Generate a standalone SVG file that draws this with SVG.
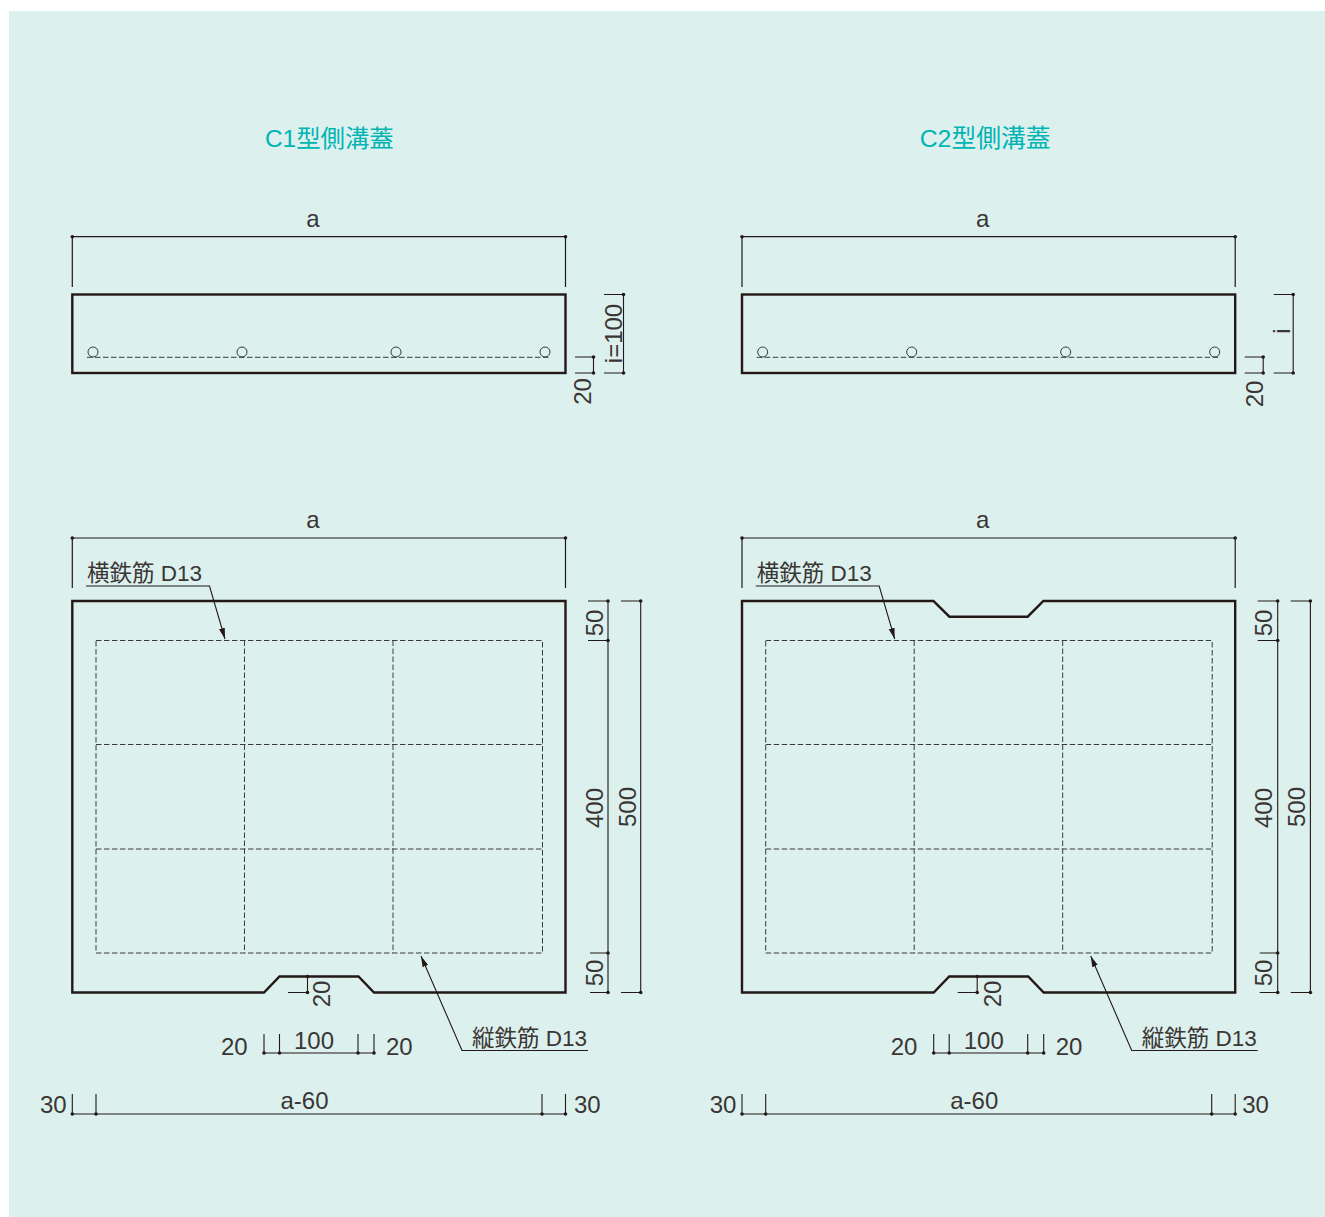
<svg xmlns="http://www.w3.org/2000/svg" width="1325" height="1217" viewBox="0 0 1325 1217">
<style>
text{font-family:"Liberation Sans","Noto Sans CJK JP",sans-serif;fill:#3a3634;font-size:24px}
.t{fill:#00b4b4;font-size:24.4px}
.l{font-size:22.5px}
.m{text-anchor:middle}
.o{fill:none;stroke:#231815;stroke-width:2.4}
.d{fill:none;stroke:#3a3a38;stroke-width:1;stroke-dasharray:5.500 2.500}
.c{fill:none;stroke:#3a3a38;stroke-width:1}
.s{fill:none;stroke:#231815;stroke-width:1.2}
.g{fill:none;stroke:#231815;stroke-width:1.1}
.p{fill:#231815;stroke:none}
</style>
<defs>
<marker id="arr" markerWidth="12" markerHeight="8" refX="11" refY="3" orient="auto" markerUnits="userSpaceOnUse"><path d="M0 0L11 3L0 6Z" class="p"/></marker>
</defs>
<rect x="9" y="11" width="1316" height="1206" fill="#dcf0ee"/>

<g id="c1">
<text id="c1-title" class="t" x="265" y="147">C1型側溝蓋</text>
<g id="c1-section">
<rect class="o" x="72.300" y="294.500" width="493.200" height="78.500"/>
<path class="d" d="M87 357.300H551"/>
<circle class="c" cx="93" cy="352" r="5"/><circle class="c" cx="242" cy="352" r="5"/><circle class="c" cx="396" cy="352" r="5"/><circle class="c" cx="545" cy="352" r="5"/>
</g>
<g id="c1-plan">
<path class="o" d="M72.300 601H565.500V992.500H374L358.500 976.500H279.500L264 992.500H72.300Z"/>
<path class="d" d="M96 640.500H542.500V953H96ZM244.500 640.500V953M393 640.500V953M96 744.500H542.500M96 849H542.500"/>
</g>
<g id="c1-labels">
<text class="m" x="313" y="227">a</text>
<text class="m" x="313" y="528">a</text>
<text class="l" x="87" y="580.500">横鉄筋 D13</text>
<text class="l" x="472" y="1046">縦鉄筋 D13</text>
<text class="m" transform="translate(591 391.500) rotate(-90)">20</text>
<text class="m" transform="translate(622 333.500) rotate(-90)">i=100</text>
<text class="m" transform="translate(603 623) rotate(-90)">50</text>
<text class="m" transform="translate(603 808) rotate(-90)">400</text>
<text class="m" transform="translate(603 973) rotate(-90)">50</text>
<text class="m" transform="translate(635.500 807) rotate(-90)">500</text>
<text class="m" transform="translate(330 994) rotate(-90)">20</text>
<text x="221" y="1054.500">20</text><text x="294" y="1049">100</text><text x="386" y="1054.500">20</text>
<text x="40" y="1112.500">30</text><text x="280.500" y="1109">a-60</text><text x="574" y="1112.500">30</text>
</g>
</g>

<g id="c2" transform="translate(669.700 0)">
<text id="c2-title" class="t" x="250" y="147" style="font-size:24.800px">C2型側溝蓋</text>
<g id="c2-section">
<rect class="o" x="72.300" y="294.500" width="493.200" height="78.500"/>
<path class="d" d="M87 357.300H551"/>
<circle class="c" cx="93" cy="352" r="5"/><circle class="c" cx="242" cy="352" r="5"/><circle class="c" cx="396" cy="352" r="5"/><circle class="c" cx="545" cy="352" r="5"/>
</g>
<g id="c2-plan">
<path class="o" d="M72.300 601H263.700L279.700 616.700H358L373.700 601H565.500V992.500H374L358.500 976.500H279.500L264 992.500H72.300Z"/>
<path class="d" d="M96 640.500H542.500V953H96ZM244.500 640.500V953M393 640.500V953M96 744.500H542.500M96 849H542.500"/>
</g>
<g id="c2-labels">
<text class="m" x="313" y="227">a</text>
<text class="m" x="313" y="528">a</text>
<text class="l" x="87" y="580.500">横鉄筋 D13</text>
<text class="l" x="472" y="1046">縦鉄筋 D13</text>
<text class="m" transform="translate(593 394) rotate(-90)">20</text>
<text class="m" transform="translate(620 331) rotate(-90)">i</text>
<text class="m" transform="translate(602.500 623) rotate(-90)">50</text>
<text class="m" transform="translate(602.500 808) rotate(-90)">400</text>
<text class="m" transform="translate(602.500 973) rotate(-90)">50</text>
<text class="m" transform="translate(635 807) rotate(-90)">500</text>
<text class="m" transform="translate(331 994) rotate(-90)">20</text>
<text x="221" y="1054.500">20</text><text x="294" y="1049">100</text><text x="386" y="1054.500">20</text>
<text x="40" y="1112.500">30</text><text x="280.500" y="1109">a-60</text><text x="572.500" y="1112.500">30</text>
</g>
</g>

<g id="connectors">
<g id="c1-dims">
<path class="s" d="M72.300 236.700H565.500M72.300 236.700V287M565.500 236.700V287"/>
<path class="s" d="M72.300 538H565.500M72.300 538V588M565.500 538V588"/>
<path class="g" d="M575 357H593.500V373H575M604 294.500H623.500V373H604"/>
<path class="g" d="M588 601H608V992.500H590M588 640.500H608M590 953H608M621 601H640.700V992.500H621"/>
<path class="g" d="M288 992.500H307.500V976.500"/>
<path class="g" d="M264 1034V1053H374V1034M279.500 1034V1053M358 1034V1053"/>
<path class="g" d="M72.300 1094V1114H565.500V1094M96 1094V1114M542 1094V1114"/>
<path class="g" d="M86 586H209.500L225 639" marker-end="url(#arr)"/>
<path class="g" d="M588 1050.500H462L421 956" marker-end="url(#arr)"/>
<g class="p"><circle cx="72.300" cy="236.700" r="1.800"/><circle cx="565.500" cy="236.700" r="1.800"/><circle cx="72.300" cy="538" r="1.800"/><circle cx="565.500" cy="538" r="1.800"/><circle cx="593.500" cy="357" r="1.800"/><circle cx="593.500" cy="373" r="1.800"/><circle cx="623.500" cy="294.500" r="1.800"/><circle cx="623.500" cy="373" r="1.800"/><circle cx="608" cy="601" r="1.800"/><circle cx="608" cy="640.500" r="1.800"/><circle cx="608" cy="953" r="1.800"/><circle cx="608" cy="992.500" r="1.800"/><circle cx="640.700" cy="601" r="1.800"/><circle cx="640.700" cy="992.500" r="1.800"/><circle cx="307.500" cy="976.500" r="1.800"/><circle cx="307.500" cy="992.500" r="1.800"/><circle cx="264" cy="1053" r="1.800"/><circle cx="279.500" cy="1053" r="1.800"/><circle cx="358" cy="1053" r="1.800"/><circle cx="374" cy="1053" r="1.800"/><circle cx="72.300" cy="1114" r="1.800"/><circle cx="96" cy="1114" r="1.800"/><circle cx="542" cy="1114" r="1.800"/><circle cx="565.500" cy="1114" r="1.800"/></g>
</g>
<g id="c2-dims" transform="translate(669.700 0)">
<path class="s" d="M72.300 236.700H565.500M72.300 236.700V287M565.500 236.700V287"/>
<path class="s" d="M72.300 538H565.500M72.300 538V588M565.500 538V588"/>
<path class="g" d="M575 357H593.500V373H575M604 294.500H623.500V373H604"/>
<path class="g" d="M588 601H608V992.500H590M588 640.500H608M590 953H608M621 601H640.700V992.500H621"/>
<path class="g" d="M288 992.500H307.500V976.500"/>
<path class="g" d="M264 1034V1053H374V1034M279.500 1034V1053M358 1034V1053"/>
<path class="g" d="M72.300 1094V1114H565.500V1094M96 1094V1114M542 1094V1114"/>
<path class="g" d="M86 586H209.500L225 639" marker-end="url(#arr)"/>
<path class="g" d="M588 1050.500H462L421 956" marker-end="url(#arr)"/>
<g class="p"><circle cx="72.300" cy="236.700" r="1.800"/><circle cx="565.500" cy="236.700" r="1.800"/><circle cx="72.300" cy="538" r="1.800"/><circle cx="565.500" cy="538" r="1.800"/><circle cx="593.500" cy="357" r="1.800"/><circle cx="593.500" cy="373" r="1.800"/><circle cx="623.500" cy="294.500" r="1.800"/><circle cx="623.500" cy="373" r="1.800"/><circle cx="608" cy="601" r="1.800"/><circle cx="608" cy="640.500" r="1.800"/><circle cx="608" cy="953" r="1.800"/><circle cx="608" cy="992.500" r="1.800"/><circle cx="640.700" cy="601" r="1.800"/><circle cx="640.700" cy="992.500" r="1.800"/><circle cx="307.500" cy="976.500" r="1.800"/><circle cx="307.500" cy="992.500" r="1.800"/><circle cx="264" cy="1053" r="1.800"/><circle cx="279.500" cy="1053" r="1.800"/><circle cx="358" cy="1053" r="1.800"/><circle cx="374" cy="1053" r="1.800"/><circle cx="72.300" cy="1114" r="1.800"/><circle cx="96" cy="1114" r="1.800"/><circle cx="542" cy="1114" r="1.800"/><circle cx="565.500" cy="1114" r="1.800"/></g>
</g>
</g>
</svg>
